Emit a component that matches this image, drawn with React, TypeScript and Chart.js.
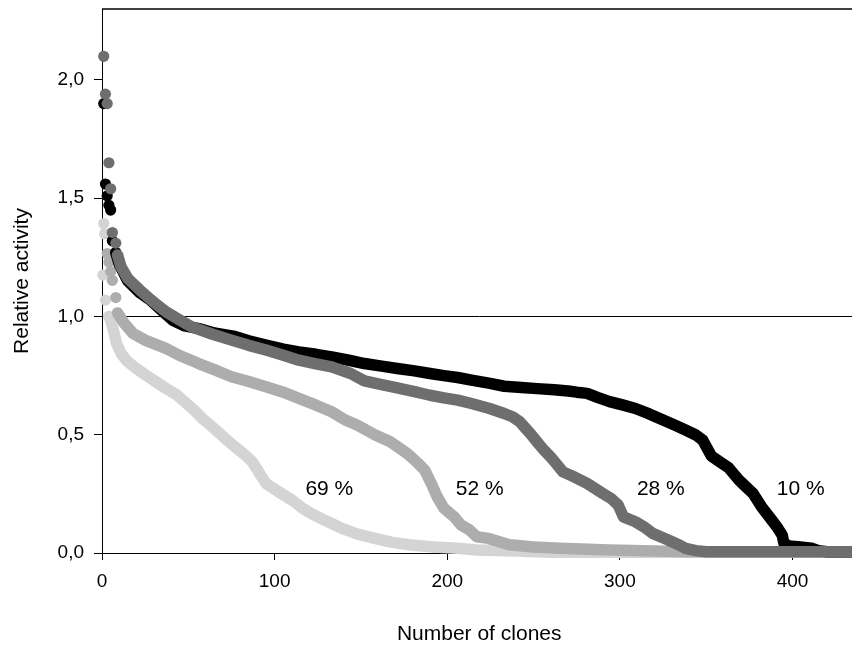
import React, { useEffect, useRef } from "react";
import { Chart, registerables } from "chart.js";

Chart.register(...registerables);

const FONT = "'Liberation Sans', Arial, sans-serif";

const X_TICKS = [0, 100, 200, 300, 400];
const Y_TICKS = [0, 0.5, 1, 1.5, 2];
const X_MIN = 0;
const X_MAX = 437;
const Y_MIN = 0;
const Y_MAX = 2.3;
const REF_LINE = 1.0;

const X_TITLE = "Number of clones";
const Y_TITLE = "Relative activity";

const LABEL_TEXT = ["10 %", "28 %", "52 %", "69 %"];
const LABEL_X = [404.7, 323.7, 218.8, 131.7];
const LABEL_Y = [0.27, 0.27, 0.27, 0.27];

const COLORS = ["#000000", "#6e6e6e", "#adadad", "#d4d4d4"];

// 10 % (black)
const S10_HEAD_X = [1, 2, 3, 4, 5, 6];
const S10_HEAD_Y = [1.9, 1.56, 1.51, 1.47, 1.45, 1.32];
const S10_X = [8, 10, 15, 22, 28, 34, 41, 48, 56, 65, 76, 85, 95, 105, 114, 124, 133, 143, 152, 162, 171, 181, 190, 198, 206, 214, 224, 233, 243, 252, 262, 270, 275, 281, 287, 294, 302, 309, 317, 325, 332, 338, 344, 348, 353, 358, 363, 369, 373, 377, 382, 388, 391, 394, 395, 398, 403, 411, 415, 420, 440];
const S10_Y = [1.27, 1.22, 1.15, 1.1, 1.07, 1.03, 0.984, 0.96, 0.949, 0.93, 0.917, 0.897, 0.879, 0.862, 0.85, 0.84, 0.829, 0.815, 0.801, 0.79, 0.78, 0.77, 0.759, 0.75, 0.742, 0.731, 0.718, 0.705, 0.7, 0.695, 0.69, 0.685, 0.68, 0.675, 0.658, 0.64, 0.625, 0.611, 0.588, 0.562, 0.54, 0.52, 0.499, 0.477, 0.41, 0.385, 0.36, 0.308, 0.28, 0.253, 0.196, 0.139, 0.11, 0.076, 0.041, 0.03, 0.027, 0.02, 0.01, 0.005, 0.005];

// 28 % (dark grey)
const S28_HEAD_X = [1, 2, 3, 4, 5, 6, 8];
const S28_HEAD_Y = [2.1, 1.94, 1.9, 1.65, 1.54, 1.355, 1.31];
const S28_X = [9, 11, 15, 22, 30, 37, 45, 52, 64, 75, 85, 95, 105, 114, 124, 133, 144, 152, 162, 171, 181, 190, 198, 206, 214, 224, 233, 238, 242, 245, 248, 252, 256, 260, 263, 267, 274, 281, 290, 295, 299, 302, 309, 314, 319, 328, 334, 338, 344, 350, 440];
const S28_Y = [1.26, 1.21, 1.16, 1.111, 1.06, 1.02, 0.985, 0.956, 0.925, 0.9, 0.878, 0.858, 0.836, 0.815, 0.8, 0.787, 0.759, 0.728, 0.712, 0.698, 0.682, 0.667, 0.656, 0.646, 0.632, 0.612, 0.59, 0.575, 0.555, 0.53, 0.506, 0.47, 0.435, 0.405, 0.379, 0.343, 0.32, 0.294, 0.252, 0.23, 0.203, 0.153, 0.132, 0.11, 0.083, 0.055, 0.035, 0.02, 0.01, 0.005, 0.005];

// 52 % (mid grey)
const S52_HEAD_X = [3, 4, 5, 6, 8];
const S52_HEAD_Y = [1.266, 1.23, 1.19, 1.153, 1.08];
const S52_X = [9, 13, 18, 25, 30, 37, 45, 56, 65, 75, 85, 95, 105, 114, 124, 133, 141, 148, 158, 167, 177, 183, 187, 191, 194, 198, 204, 208, 213, 217, 223, 236, 250, 265, 294, 320, 340, 440];
const S52_Y = [1.015, 0.97, 0.928, 0.9, 0.885, 0.865, 0.835, 0.801, 0.775, 0.745, 0.725, 0.703, 0.68, 0.654, 0.625, 0.597, 0.562, 0.54, 0.5, 0.47, 0.42, 0.38, 0.35, 0.29, 0.24, 0.19, 0.153, 0.118, 0.097, 0.069, 0.063, 0.035, 0.025, 0.02, 0.013, 0.008, 0.005, 0.005];

// 69 % (light grey)
const S69_HEAD_X = [1, 1.5, 0.5, 2];
const S69_HEAD_Y = [1.393, 1.35, 1.175, 1.069];
const S69_X = [4, 5, 7, 8.4, 11, 14, 19, 24, 30, 37, 43, 49, 54, 58, 62, 66, 72, 77, 82, 87, 91, 95, 102, 110, 116, 121, 130, 139, 148, 158, 168, 179, 192, 206, 217, 240, 260, 440];
const S69_Y = [1.0, 0.984, 0.93, 0.886, 0.845, 0.815, 0.785, 0.759, 0.73, 0.696, 0.67, 0.632, 0.6, 0.569, 0.545, 0.52, 0.48, 0.449, 0.42, 0.386, 0.34, 0.294, 0.26, 0.224, 0.19, 0.168, 0.135, 0.104, 0.08, 0.062, 0.045, 0.034, 0.025, 0.02, 0.013, 0.008, 0.003, 0.003];

const zip = (xs: number[], ys: number[]) =>
  xs.slice(0, Math.min(xs.length, ys.length)).map((x, i) => ({ x, y: ys[i] }));

const POINT_R = 5.6;
const BAND_W = 11.5;

function seriesDatasets(headX: number[], headY: number[], xs: number[], ys: number[], color: string, order: number) {
  return [
    {
      data: zip(xs, ys),
      showLine: true,
      borderColor: color,
      backgroundColor: color,
      borderWidth: BAND_W,
      borderCapStyle: "round",
      borderJoinStyle: "round",
      pointRadius: 0,
      pointHoverRadius: 0,
      tension: 0,
      clip: false,
      order,
    },
    {
      data: zip(headX, headY),
      showLine: false,
      borderColor: color,
      backgroundColor: color,
      borderWidth: 0,
      pointRadius: POINT_R,
      pointHoverRadius: POINT_R,
      clip: false,
      order,
    },
  ];
}

const framePlugin = {
  id: "frameAndLabels",
  beforeDatasetsDraw(chart: any) {
    const { ctx, chartArea } = chart;
    ctx.save();
    ctx.strokeStyle = "#000";
    ctx.lineWidth = 1.5;
    ctx.beginPath();
    ctx.moveTo(chartArea.left, chartArea.top);
    ctx.lineTo(chartArea.right, chartArea.top);
    ctx.stroke();
    ctx.restore();
  },
  afterDatasetsDraw(chart: any) {
    const { ctx, scales } = chart;
    ctx.save();
    ctx.fillStyle = "#000";
    ctx.font = `21px ${FONT}`;
    ctx.textAlign = "center";
    ctx.textBaseline = "middle";
    LABEL_TEXT.forEach((t, i) => {
      ctx.fillText(t, scales.x.getPixelForValue(LABEL_X[i]), scales.y.getPixelForValue(LABEL_Y[i]));
    });
    ctx.restore();
  },
};

export default function App() {
  const ref = useRef<HTMLCanvasElement | null>(null);

  useEffect(() => {
    if (!ref.current) return;
    Chart.defaults.color = "#000";
    Chart.defaults.font.family = FONT;
    const chart = new Chart(ref.current, {
      type: "scatter",
      data: {
        datasets: [
          ...seriesDatasets(S28_HEAD_X, S28_HEAD_Y, S28_X, S28_Y, COLORS[1], 1),
          ...seriesDatasets(S10_HEAD_X, S10_HEAD_Y, S10_X, S10_Y, COLORS[0], 2),
          ...seriesDatasets(S52_HEAD_X, S52_HEAD_Y, S52_X, S52_Y, COLORS[2], 3),
          ...seriesDatasets(S69_HEAD_X, S69_HEAD_Y, S69_X, S69_Y, COLORS[3], 4),
        ] as any,
      },
      options: {
        animation: false,
        responsive: false,
        events: [],
        layout: { padding: { top: 9, left: 0, right: 0, bottom: 0 } },
        plugins: { legend: { display: false }, tooltip: { enabled: false } },
        scales: {
          x: {
            type: "linear",
            min: X_MIN,
            max: X_MAX,
            afterBuildTicks: (s: any) => {
              s.ticks = X_TICKS.map((value) => ({ value }));
            },
            afterFit: (s: any) => {
              s.height = 92;
              s.paddingLeft = 0;
              s.paddingRight = 0;
            },
            ticks: {
              font: { size: 19, family: FONT },
              color: "#000",
              padding: 10,
              maxRotation: 0,
              autoSkip: false,
              callback: (v: any) => String(v),
            },
            grid: {
              drawOnChartArea: false,
              drawTicks: true,
              tickLength: 7,
              tickColor: "#000",
              color: "#000",
            },
            border: { display: true, color: "#000", width: 1 },
            title: {
              display: true,
              text: X_TITLE,
              font: { size: 21, family: FONT },
              color: "#000",
              padding: { top: 0, bottom: -2 },
            },
          },
          y: {
            type: "linear",
            min: Y_MIN,
            max: Y_MAX,
            afterBuildTicks: (s: any) => {
              s.ticks = Y_TICKS.map((value) => ({ value }));
            },
            afterFit: (s: any) => {
              s.width = 102;
              s.paddingTop = 0;
              s.paddingBottom = 0;
            },
            ticks: {
              font: { size: 19, family: FONT },
              color: "#000",
              padding: 10,
              autoSkip: false,
              callback: (v: any) => Number(v).toFixed(1).replace(".", ","),
            },
            grid: {
              drawOnChartArea: true,
              drawTicks: true,
              tickLength: 8,
              tickColor: "#000",
              color: (c: any) => (c.tick && c.tick.value === REF_LINE ? "#000" : "rgba(0,0,0,0)"),
              lineWidth: 1,
            },
            border: { display: true, color: "#000", width: 1 },
            title: {
              display: true,
              text: Y_TITLE,
              font: { size: 21, family: FONT },
              color: "#000",
              padding: { top: 10, bottom: 0 },
            },
          },
        },
      } as any,
      plugins: [framePlugin],
    });
    return () => chart.destroy();
  }, []);

  return (
    <div
      style={{
        position: "fixed",
        left: 0,
        top: 0,
        width: 852,
        height: 645,
        overflow: "hidden",
        background: "#fff",
      }}
    >
      <canvas ref={ref} width={862} height={645} style={{ display: "block" }} />
    </div>
  );
}
